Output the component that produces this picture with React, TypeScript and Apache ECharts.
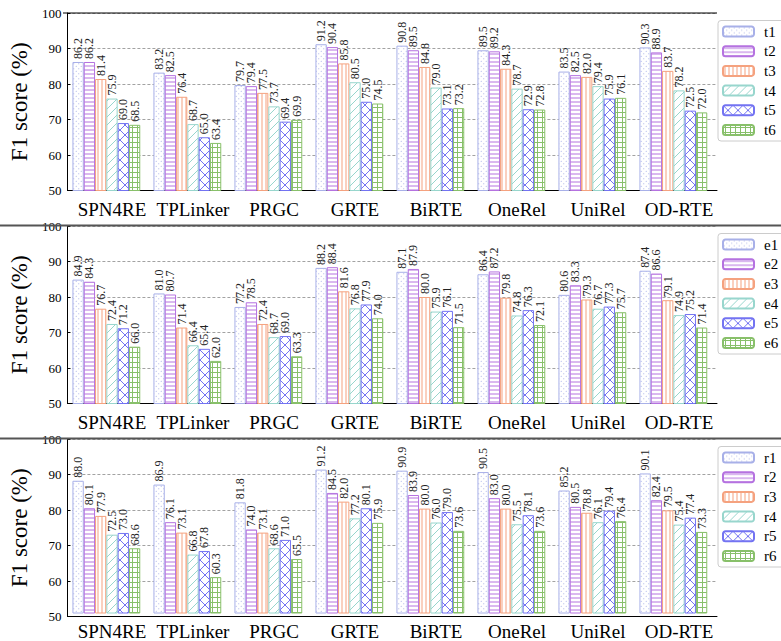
import React, { useEffect, useRef } from "react";
import * as echarts from "echarts";

const categories = ["SPN4RE", "TPLinker", "PRGC", "GRTE", "BiRTE", "OneRel", "UniRel", "OD-RTE"];
const yTicks = [50, 60, 70, 80, 90, 100];

const t1 = [86.2, 83.2, 79.7, 91.2, 90.8, 89.5, 83.5, 90.3];
const t2 = [86.2, 82.5, 79.4, 90.4, 89.5, 89.2, 82.5, 88.9];
const t3 = [81.4, 76.4, 77.5, 85.8, 84.8, 84.3, 82.0, 83.7];
const t4 = [75.9, 68.7, 73.7, 80.5, 79.0, 78.7, 79.4, 78.2];
const t5 = [69.0, 65.0, 69.4, 75.0, 73.1, 72.9, 75.9, 72.5];
const t6 = [68.5, 63.4, 69.9, 74.5, 73.2, 72.8, 76.1, 72.0];

const e1 = [84.9, 81.0, 77.2, 88.2, 87.1, 86.4, 80.6, 87.4];
const e2 = [84.3, 80.7, 78.5, 88.4, 87.9, 87.2, 83.3, 86.6];
const e3 = [76.7, 71.4, 72.4, 81.6, 80.0, 79.8, 79.3, 79.1];
const e4 = [72.4, 66.4, 68.7, 76.8, 75.9, 74.8, 76.7, 74.9];
const e5 = [71.2, 65.4, 69.0, 77.9, 76.1, 76.3, 77.3, 75.2];
const e6 = [66.0, 62.0, 63.3, 74.0, 71.5, 72.1, 75.7, 71.4];

const r1 = [88.0, 86.9, 81.8, 91.2, 90.9, 90.5, 85.2, 90.1];
const r2 = [80.1, 76.1, 74.0, 84.5, 83.9, 83.0, 80.5, 82.4];
const r3 = [77.9, 73.1, 73.1, 82.0, 80.0, 80.0, 78.8, 79.5];
const r4 = [72.5, 66.8, 68.6, 77.2, 76.0, 75.5, 76.1, 75.4];
const r5 = [73.0, 67.8, 71.0, 80.1, 79.0, 78.1, 79.4, 77.4];
const r6 = [68.6, 60.3, 65.5, 75.9, 73.6, 73.6, 76.4, 73.3];

const panelNames = [
  ["t1", "t2", "t3", "t4", "t5", "t6"],
  ["e1", "e2", "e3", "e4", "e5", "e6"],
  ["r1", "r2", "r3", "r4", "r5", "r6"],
];
const panelValues = [
  [t1, t2, t3, t4, t5, t6],
  [e1, e2, e3, e4, e5, e6],
  [r1, r2, r3, r4, r5, r6],
];

const colors = ["#a8b0e8", "#b572e0", "#f5a27f", "#98d6cd", "#7373f2", "#88c06a"];
const hatches = ["dots", "h", "v", "diag", "x", "grid"];

const FONT = "'Liberation Serif', 'DejaVu Serif', serif";

function tile(kind: string, c: string) {
  let w = 4, h = 4, body = "";
  const ln = (x1: number, y1: number, x2: number, y2: number) =>
    `<line x1='${x1}' y1='${y1}' x2='${x2}' y2='${y2}' stroke='${c}' stroke-width='1'/>`;
  if (kind === "dots") {
    w = 5; h = 5;
    body = `<circle cx='1.25' cy='1.25' r='0.6' fill='${c}'/><circle cx='3.75' cy='3.75' r='0.6' fill='${c}'/>`;
  } else if (kind === "h") {
    w = 4; h = 4; body = ln(0, 2, 4, 2);
  } else if (kind === "v") {
    w = 4; h = 4; body = ln(2, 0, 2, 4);
  } else if (kind === "diag") {
    w = 8; h = 8; body = ln(0, 8, 8, 0) + ln(-1, 1, 1, -1) + ln(7, 9, 9, 7);
  } else if (kind === "x") {
    w = 10; h = 10; body = ln(0, 0, 10, 10) + ln(0, 10, 10, 0);
  } else {
    w = 5; h = 5; body = ln(2.5, 0, 2.5, 5) + ln(0, 2.5, 5, 2.5);
  }
  const svg = `<svg xmlns='http://www.w3.org/2000/svg' width='${w}' height='${h}'><rect width='${w}' height='${h}' fill='white'/>${body}</svg>`;
  return {
    image: "data:image/svg+xml;charset=utf-8," + encodeURIComponent(svg),
    repeat: "repeat",
    imageWidth: w,
    imageHeight: h,
  };
}

const panelTops = [13, 226, 439];
const panelHeight = 177.5;

function buildOption() {
  const grid: any[] = [];
  const xAxis: any[] = [];
  const yAxis: any[] = [];
  const series: any[] = [];
  const legend: any[] = [];

  panelTops.forEach((top, p) => {
    const gA = grid.length;
    grid.push({ left: 63, right: 64, top, height: panelHeight });
    grid.push({ left: 71.5, right: 61.5, top, height: panelHeight });
    xAxis.push({
      gridIndex: gA, type: "category", data: categories,
      axisLine: { show: true, lineStyle: { color: "#000", width: 1 } },
      axisTick: { show: false }, axisLabel: { show: false }, splitLine: { show: false },
    });
    xAxis.push({
      gridIndex: gA + 1, type: "category", data: categories,
      axisLine: { show: false },
      axisTick: { show: true, inside: true, alignWithLabel: true, interval: 0, length: 4, lineStyle: { color: "#000" } },
      axisLabel: { show: true, interval: 0, fontSize: 19, fontFamily: FONT, color: "#000", margin: 9 },
    });
    yAxis.push({
      gridIndex: gA, type: "value", min: yTicks[0], max: yTicks[yTicks.length - 1], interval: 10,
      name: "F1 score (%)", nameLocation: "middle", nameGap: 30,
      nameTextStyle: { fontSize: 23, fontFamily: FONT, color: "#000" },
      axisLine: { show: true, lineStyle: { color: "#000", width: 1 } },
      axisTick: { show: true, inside: true, length: 3, lineStyle: { color: "#000" } },
      axisLabel: { fontSize: 13, fontFamily: FONT, color: "#000", margin: 6 },
      splitLine: { show: true, lineStyle: { type: [3, 2], color: "#8a8a8a", width: 0.8 } },
    });
    yAxis.push({
      gridIndex: gA + 1, type: "value", min: yTicks[0], max: yTicks[yTicks.length - 1],
      show: false, splitLine: { show: false },
    });

    panelNames[p].forEach((name, i) => {
      series.push({
        type: "bar", name, xAxisIndex: gA + 1, yAxisIndex: gA + 1,
        data: panelValues[p][i],
        barWidth: 11.3, barGap: "0%",
        itemStyle: { color: tile(hatches[i], colors[i]), borderColor: colors[i], borderWidth: 1 },
        label: {
          show: true, position: "top", rotate: 90, align: "left", verticalAlign: "middle",
          distance: 3, fontSize: 12, fontFamily: FONT, color: "#222",
          formatter: (q: any) => Number(q.value).toFixed(1),
        },
      });
    });
    series.push({
      type: "bar", name: "_pad" + p, xAxisIndex: gA + 1, yAxisIndex: gA + 1,
      data: categories.map(() => "-"), barWidth: 11.3, barGap: "0%",
      itemStyle: { color: "transparent" }, silent: true,
    });

    legend.push({
      data: panelNames[p], orient: "vertical", left: 718, top: top + 7.5,
      backgroundColor: "#fff", borderColor: "#cccccc", borderWidth: 1, borderRadius: 3,
      padding: [3.5, 40, 3.5, 4], itemWidth: 31, itemHeight: 10, itemGap: 4.7,
      textStyle: { fontSize: 15, fontFamily: FONT, color: "#000", lineHeight: 15, padding: [0, 0, 0, 5] },
      selectedMode: false, z: 10,
    });
  });

  const graphic: any[] = [
    { type: "line", shape: { x1: 63, y1: 13, x2: 717, y2: 13 }, style: { stroke: "#000", lineWidth: 1 }, z: 5 },
    { type: "line", shape: { x1: 0, y1: 225.5, x2: 781, y2: 225.5 }, style: { stroke: "#555", lineWidth: 2 }, z: 5 },
    { type: "line", shape: { x1: 0, y1: 438.5, x2: 781, y2: 438.5 }, style: { stroke: "#555", lineWidth: 2 }, z: 5 },
  ];

  return {
    animation: false,
    backgroundColor: "#fff",
    textStyle: { fontFamily: FONT },
    grid, xAxis, yAxis, series, legend, graphic,
  };
}

export default function App() {
  const ref = useRef<HTMLDivElement>(null);
  useEffect(() => {
    if (!ref.current) return;
    const chart = echarts.init(ref.current, undefined, { renderer: "svg" });
    chart.setOption(buildOption() as any);
    return () => chart.dispose();
  }, []);
  return (
    <div
      ref={ref}
      style={{ position: "fixed", left: 0, top: 0, width: 781, height: 641, background: "#fff" }}
    />
  );
}
